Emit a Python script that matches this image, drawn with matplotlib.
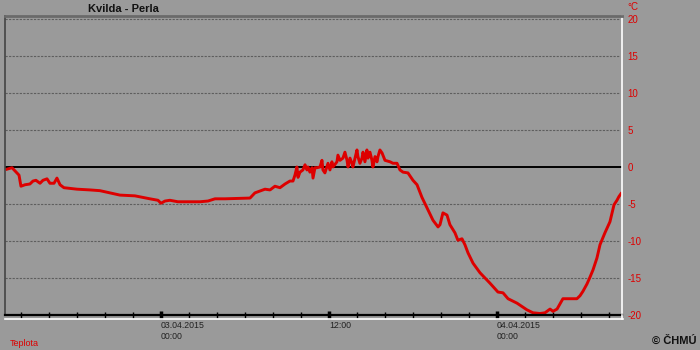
"""Kvilda - Perla: air temperature, 02.04.2015 13:00 - 04.04.2015 09:00."""
import matplotlib
matplotlib.use("Agg")
import matplotlib.pyplot as plt
from matplotlib.lines import Line2D

plt.rcParams["font.family"] = ["Liberation Sans", "DejaVu Sans"]

# hours relative to 03.04.2015 00:00
hours = [-11.0, -10.64, -10.29, -10.14, -10.0, -9.71, -9.36, -9.14, -8.93, -8.64,
         -8.43, -8.14, -7.93, -7.64, -7.43, -7.21, -6.93, -6.0, -5.07, -4.36,
         -3.64, -2.93, -1.86, -0.79, -0.21, 0.0, 0.29, 0.64, 1.21, 2.07,
         2.79, 3.36, 3.86, 4.57, 6.36, 6.71, 7.43, 7.79, 8.14, 8.5,
         8.86, 9.21, 9.43, 9.57, 9.71, 9.79, 9.93, 10.14, 10.29, 10.43,
         10.5, 10.64, 10.79, 10.86, 11.0, 11.14, 11.36, 11.5, 11.57, 11.71,
         11.93, 12.07, 12.21, 12.29, 12.57, 12.64, 12.79, 13.0, 13.14, 13.29,
         13.36, 13.5, 13.64, 13.71, 14.0, 14.07, 14.21, 14.36, 14.43, 14.57,
         14.71, 14.79, 14.93, 15.07, 15.14, 15.29, 15.43, 15.5, 15.64, 15.79,
         16.0, 16.36, 16.57, 16.86, 17.07, 17.29, 17.64, 18.0, 18.29, 18.64,
         19.0, 19.43, 19.79, 19.93, 20.14, 20.43, 20.64, 21.0, 21.21, 21.5,
         21.71, 21.93, 22.29, 22.79, 23.5, 24.07, 24.43, 24.79, 25.43, 26.14,
         26.57, 27.07, 27.43, 27.79, 28.0, 28.29, 28.71, 29.0, 29.43, 29.71,
         29.93, 30.14, 30.43, 30.64, 30.86, 31.14, 31.36, 31.71, 32.07, 32.36,
         32.57, 32.71, 32.86]
temps = [-0.3, -0.1, -0.8, -1.1, -2.6, -2.4, -2.3, -1.9, -1.8, -2.2,
         -1.8, -1.6, -2.2, -2.2, -1.5, -2.4, -2.8, -3.0, -3.1, -3.2,
         -3.5, -3.8, -3.9, -4.3, -4.5, -4.9, -4.6, -4.5, -4.7, -4.7,
         -4.7, -4.6, -4.3, -4.3, -4.2, -3.5, -3.0, -3.1, -2.6, -2.8,
         -2.3, -1.9, -1.9, -1.1, 0.0, -1.4, -0.7, -0.4, 0.3, -0.4,
         0.0, -0.7, -0.1, -1.5, -0.1, -0.1, 0.0, 0.9, -0.4, -0.8,
         0.5, -0.4, 0.7, 0.0, 0.7, 1.6, 0.9, 1.2, 2.0, 0.9,
         0.0, 1.2, 0.5, 0.0, 2.3, 1.4, 0.5, 1.2, 2.0, 0.7,
         2.3, 1.2, 2.0, 0.9, 0.0, 1.4, 0.7, 1.4, 2.3, 1.9,
         0.9, 0.7, 0.5, 0.5, -0.4, -0.7, -0.8, -1.8, -2.4, -4.1,
         -5.5, -7.2, -8.1, -7.8, -6.2, -6.5, -7.8, -8.9, -9.9, -9.7,
         -10.5, -11.6, -13.0, -14.3, -15.7, -16.9, -17.0, -17.8, -18.4, -19.3,
         -19.7, -19.8, -19.7, -19.2, -19.5, -19.2, -17.8, -17.8, -17.8, -17.8,
         -17.4, -16.8, -15.8, -14.9, -13.9, -12.3, -10.5, -8.9, -7.4, -5.1,
         -4.5, -4.0, -3.6]

y_ticks = [20, 15, 10, 5, 0, -5, -10, -15, -20]
grid_levels = [20, 15, 10, 5, -5, -10, -15]
minor_hours = list(range(-10, 33, 2))
major_hours = [0, 12, 24]
major_labels = ["03.04.2015\n00:00", "12:00", "04.04.2015\n00:00"]

BG = "#9a9a9a"
RED = "#dd0000"

fig = plt.figure(figsize=(7, 3.5), dpi=100, facecolor=BG)
ax = fig.add_axes([5 / 700, 1 - 315 / 350, 617 / 700, 299 / 350])
ax.set_facecolor(BG)
ax.set_xlim(-11.14, 32.93)
ax.set_ylim(-20, 20.4)

for lvl in grid_levels:
    ax.axhline(lvl, color="#5e5e5e", lw=0.8, ls=(0, (2, 1.2)), xmax=0.995)
ax.axhline(0, color="black", lw=1.4)

ax.plot(hours, temps, color=RED, lw=2.1, solid_joinstyle="round")

for side in ["left", "top", "right", "bottom"]:
    ax.spines[side].set_linewidth(1.2)
ax.spines["left"].set_color("#444444")
ax.spines["top"].set_color("#6a6a6a")
ax.spines["top"].set_linewidth(2)
ax.spines["right"].set_color("white")
ax.spines["bottom"].set_color("black")
ax.spines["bottom"].set_linewidth(1.6)

ax.yaxis.tick_right()
ax.set_yticks(y_ticks)
ax.set_yticklabels([str(v) for v in y_ticks])
ax.tick_params(axis="y", length=0, pad=4, labelsize=7, labelcolor=RED)

ax.set_xticks(major_hours)
ax.set_xticklabels(major_labels, ha="left", multialignment="left")
ax.set_xticks(minor_hours, minor=True)
ax.tick_params(axis="x", which="major", direction="inout", length=6, width=2.5,
               color="black", labelsize=6.3, labelcolor="#222222", pad=1.5)
ax.tick_params(axis="x", which="minor", direction="inout", length=5, width=1,
               color="black")

# white lower frame below the time axis
fig.add_artist(Line2D([5 / 700, 622.5 / 700], [1 - 318.5 / 350] * 2,
                      color="white", lw=1.2, transform=fig.transFigure))
fig.add_artist(Line2D([622 / 700] * 2, [1 - 315 / 350, 1 - 318.5 / 350],
                      color="white", lw=1.2, transform=fig.transFigure))

fig.text(123 / 700, 1 - 9 / 350, "Kvilda - Perla", ha="center", va="center",
         fontsize=8, fontweight="bold", color="#111111")
fig.text(627 / 700, 1 - 7 / 350, "°C", ha="left", va="center", fontsize=7,
         color=RED)
fig.text(10 / 700, 1 - 343 / 350, "Teplota", ha="left", va="center",
         fontsize=6.5, color=RED)
fig.text(697 / 700, 1 - 341 / 350, "© ČHMÚ", ha="right", va="center",
         fontsize=8, fontweight="bold", color="#111111")

fig.savefig("out.png", dpi=100, facecolor=BG)
